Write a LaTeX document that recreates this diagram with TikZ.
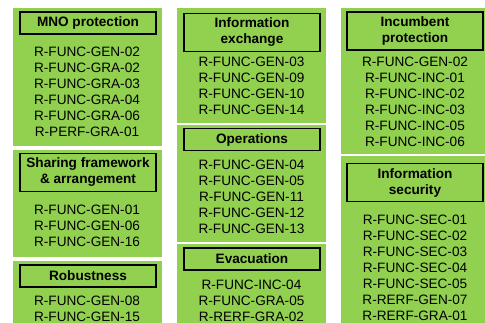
\documentclass[tikz,border=0pt]{standalone}
\usepackage{fontspec}
\setmainfont{Liberation Sans}
\usepackage{xcolor}
\definecolor{reqgreen}{RGB}{146,208,80}
\newcommand{\reqfont}{\fontsize{10.2}{12}\selectfont}
\usepackage{tikz}
\usetikzlibrary{positioning}

\begin{document}
\begin{tikzpicture}[x=0.75pt, y=-0.75pt,
    panel/.style={fill=reqgreen},
    heading/.style={draw=black, line width=1.2pt, font=\bfseries\reqfont,
      align=center, minimum width=102pt, minimum height=16.5pt, inner ysep=3.5pt},
    reqs/.style={font=\reqfont, align=center, anchor=north, inner sep=0pt}]

      \useasboundingbox (0, 0) rectangle (485, 323);
      \clip (0, 0) rectangle (485, 323);

      % first column
      \fill [panel] (13, 8) rectangle (162, 146);
      \fill [panel] (13, 150) rectangle (162, 257);
      \fill [panel] (13, 261) rectangle (162, 330);
      \node [heading] (mno) at (88, 23) {MNO protection};
      \node [reqs] (mnoreq) at (87, 47.2) {R-FUNC-GEN-02\\R-FUNC-GRA-02\\R-FUNC-GRA-03\\R-FUNC-GRA-04\\R-FUNC-GRA-06\\R-PERF-GRA-01};
      \node [heading] (sharing) at (88, 172.5) {Sharing framework\\\& arrangement};
      \node [reqs] (sharingreq) at (87, 205.2) {R-FUNC-GEN-01\\R-FUNC-GEN-06\\R-FUNC-GEN-16};
      \node [heading] (robust) at (88, 276) {Robustness};
      \node [reqs] (robustreq) at (87, 295.5) {R-FUNC-GEN-08\\R-FUNC-GEN-15};

      % second column
      \fill [panel] (177, 8) rectangle (326, 123);
      \fill [panel] (177, 125) rectangle (326, 242);
      \fill [panel] (177, 244) rectangle (326, 330);
      \node [heading] (exchange) at (252, 32.5) {Information\\exchange};
      \node [reqs] (exchangereq) at (251.5, 57.2) {R-FUNC-GEN-03\\R-FUNC-GEN-09\\R-FUNC-GEN-10\\R-FUNC-GEN-14};
      \node [heading] (ops) at (252, 139.5) {Operations};
      \node [reqs] (opsreq) at (251.5, 160.2) {R-FUNC-GEN-04\\R-FUNC-GEN-05\\R-FUNC-GEN-11\\R-FUNC-GEN-12\\R-FUNC-GEN-13};
      \node [heading] (evac) at (252, 259) {Evacuation};
      \node [reqs] (evacreq) at (251.5, 280) {R-FUNC-INC-04\\R-FUNC-GRA-05\\R-RERF-GRA-02};

      % third column
      \fill [panel] (341, 8) rectangle (490, 154);
      \fill [panel] (341, 156) rectangle (490, 330);
      \node [heading] (incumbent) at (415, 31) {Incumbent\\protection};
      \node [reqs] (incumbentreq) at (415, 57.2) {R-FUNC-GEN-02\\R-FUNC-INC-01\\R-FUNC-INC-02\\R-FUNC-INC-03\\R-FUNC-INC-05\\R-FUNC-INC-06};
      \node [heading] (security) at (415, 182.5) {Information\\security};
      \node [reqs] (securityreq) at (415, 215) {R-FUNC-SEC-01\\R-FUNC-SEC-02\\R-FUNC-SEC-03\\R-FUNC-SEC-04\\R-FUNC-SEC-05\\R-RERF-GEN-07\\R-RERF-GRA-01};

    \end{tikzpicture}
\end{document}
